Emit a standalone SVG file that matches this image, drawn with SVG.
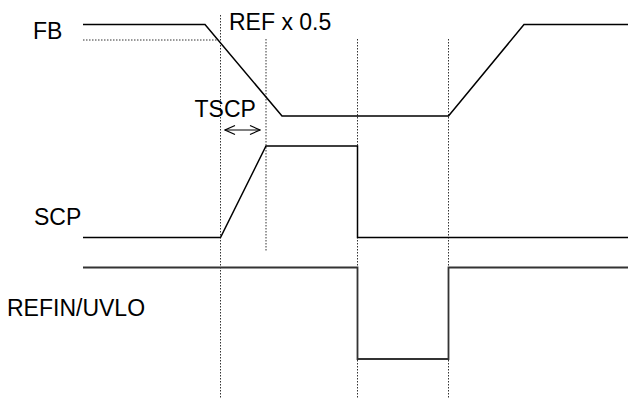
<svg xmlns="http://www.w3.org/2000/svg" width="628" height="401" viewBox="0 0 628 401">
<defs>
<style>
.lbl{font-family:"Liberation Sans",Arial,sans-serif;font-size:23px;fill:#000}
.sig{fill:none;stroke:#000;stroke-width:1.5;stroke-linejoin:miter}
.dot{fill:none;stroke:#333;stroke-width:1;stroke-dasharray:1.5,1.5}
</style>
<marker id="open" viewBox="0 0 12 12" refX="11" refY="6" markerWidth="12" markerHeight="12" orient="auto-start-reverse" markerUnits="userSpaceOnUse">
<path d="M1,1.5 L11,6 L1,10.5" fill="none" stroke="#000" stroke-width="1.2"/>
</marker>
</defs>
<rect width="628" height="401" fill="#fff"/>
<g id="guides">
<line class="dot" x1="83" y1="40" x2="218" y2="40"/>
<line class="dot" x1="220.5" y1="15" x2="220.5" y2="398"/>
<line class="dot" x1="266" y1="39" x2="266" y2="251"/>
<line class="dot" x1="357.5" y1="39" x2="357.5" y2="398"/>
<line class="dot" x1="448.5" y1="39" x2="448.5" y2="398"/>
</g>
<g id="FB">
<text class="lbl" x="33" y="38.5">FB</text>
<polyline class="sig" points="83,24.5 205,24.5 282,116 448.5,116 524,24.5 628,24.5"/>
</g>
<g id="REF">
<text class="lbl" x="229" y="30">REF x 0.5</text>
</g>
<g id="SCP">
<text class="lbl" x="34" y="225">SCP</text>
<polyline class="sig" points="83,237.5 220.5,237.5 266,146 357.5,146 357.5,237.5 628,237.5"/>
</g>
<g id="REFIN">
<text class="lbl" x="7" y="315.5">REFIN/UVLO</text>
<polyline class="sig" style="stroke:#333;stroke-width:1.8" points="83,267.5 357.5,267.5 357.5,359 448.5,359 448.5,267.5 628,267.5"/>
</g>
<g id="TSCP">
<text class="lbl" x="194.5" y="117">TSCP</text>
</g>
<g id="connectors">
<line x1="225" y1="130" x2="260" y2="130" stroke="#000" stroke-width="1.2" marker-start="url(#open)" marker-end="url(#open)"/>
</g>
</svg>
